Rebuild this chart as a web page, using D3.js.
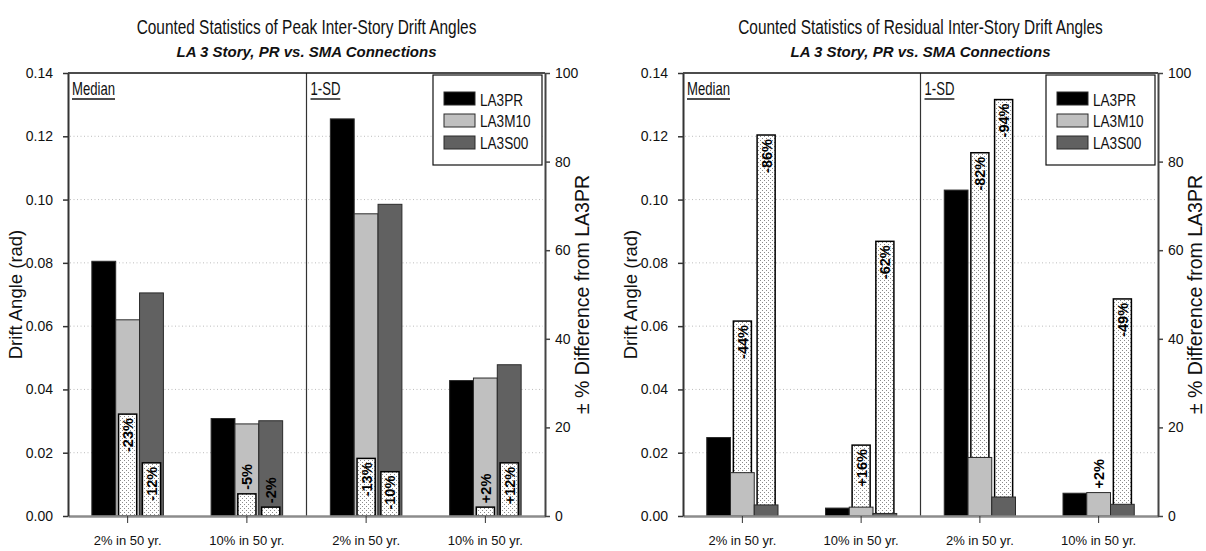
<!DOCTYPE html>
<html>
<head>
<meta charset="utf-8">
<script src="https://cdn.jsdelivr.net/npm/d3@7"></script>
<style>
  html, body { margin: 0; padding: 0; background: #fff; }
  svg { display: block; }
  text { font-family: "Liberation Sans", Arial, sans-serif; }
</style>
</head>
<body>
<svg id="chart" width="1206" height="551"></svg>
<script>
// ---- data ----
const categories = ["2% in 50 yr.", "10% in 50 yr.", "2% in 50 yr.", "10% in 50 yr."];
const groupLabels = ["Median", "1-SD"];
const seriesNames = ["LA3PR", "LA3M10", "LA3S00"];
const seriesColors = ["#000000", "#c0c0c0", "#616161"];

// Peak inter-story drift angles (rad)
const peakPR  = [0.0805, 0.0308, 0.1255, 0.0428];
const peakM10 = [0.0620, 0.0291, 0.0955, 0.0436];
const peakS00 = [0.0705, 0.0301, 0.0985, 0.0478];
// % difference from LA3PR
const peakDiffM10 = [-23, -5, -13, 2];
const peakDiffS00 = [-12, -2, -10, 12];

// Residual inter-story drift angles (rad)
const residPR  = [0.0248, 0.0025, 0.1030, 0.0072];
const residM10 = [0.0137, 0.0028, 0.0185, 0.0074];
const residS00 = [0.0035, 0.0008, 0.0060, 0.0037];
const residDiffM10 = [-44, 16, -82, 2];
const residDiffS00 = [-86, -62, -94, -49];

const driftTicks = [0, 0.02, 0.04, 0.06, 0.08, 0.10, 0.12, 0.14];
const pctTicks = [0, 20, 40, 60, 80, 100];

const svg = d3.select("#chart");

// stippled fill for the percentage bars
const defs = svg.append("defs");
const pat = defs.append("pattern").attr("id", "stipple")
  .attr("patternUnits", "userSpaceOnUse").attr("width", 4).attr("height", 4);
pat.append("rect").attr("width", 4).attr("height", 4).attr("fill", "#fff");
pat.append("rect").attr("x", 0).attr("y", 0).attr("width", 1).attr("height", 1).attr("fill", "#8a8a8a");
pat.append("rect").attr("x", 2).attr("y", 2).attr("width", 1).attr("height", 1).attr("fill", "#8a8a8a");

// horizontally condensed text
function narrowText(parent, x, y, size, sx, str, anchor) {
  return parent.append("text")
    .attr("transform", `translate(${x},${y}) scale(${sx},1)`)
    .attr("text-anchor", anchor || "start")
    .attr("font-size", size).attr("fill", "#111").text(str);
}

function drawPanel(opt) {
  const left = opt.left, right = opt.right, top = 73, bottom = 516;
  const g = svg.append("g");

  const x = d3.scaleBand().domain(d3.range(categories.length)).range([left, right]);
  const bw = x.bandwidth();
  const xs = d3.scaleBand().domain(seriesNames).range([bw * 0.2, bw * 0.8]);
  const y = d3.scaleLinear().domain([0, 0.14]).range([bottom, top]);
  const yp = d3.scaleLinear().domain([0, 100]).range([bottom, top]);

  // titles
  narrowText(g, (left + right) / 2, 34, 19.5, 0.79, opt.title, "middle");
  g.append("text")
    .attr("x", (left + right) / 2).attr("y", 57)
    .attr("text-anchor", "middle").attr("font-size", 15)
    .attr("font-weight", "bold").attr("font-style", "italic").attr("fill", "#111")
    .text("LA 3 Story, PR vs. SMA Connections");

  // dotted grid lines
  g.append("g").selectAll("line").data(driftTicks.filter(d => d > 0 && d < 0.14)).join("line")
    .attr("x1", left + 2).attr("x2", right - 2)
    .attr("y1", d => y(d)).attr("y2", d => y(d))
    .attr("stroke", "#bdbdbd").attr("stroke-width", 1).attr("stroke-dasharray", "1,2.5");

  const series = [opt.pr, opt.m10, opt.s00];
  const diffs = [null, opt.dm10, opt.ds00];

  function drawMain() {
    series.forEach((vals, si) => {
      g.append("g").selectAll("rect").data(vals).join("rect")
        .attr("x", (d, i) => x(i) + xs(seriesNames[si]))
        .attr("width", xs.bandwidth())
        .attr("y", d => y(d))
        .attr("height", d => y(0) - y(d))
        .attr("fill", seriesColors[si])
        .attr("stroke", "#2a2a2a").attr("stroke-width", 1);
    });
  }
  function drawDiffs() {
    [1, 2].forEach(si => {
      const w = xs.bandwidth() * 0.76;
      g.append("g").selectAll("rect").data(diffs[si]).join("rect")
        .attr("x", (d, i) => x(i) + xs(seriesNames[si]) + (xs.bandwidth() - w) / 2)
        .attr("width", w)
        .attr("y", d => yp(Math.abs(d)))
        .attr("height", d => yp(0) - yp(Math.abs(d)))
        .attr("fill", "url(#stipple)")
        .attr("stroke", "#000").attr("stroke-width", 1.5);
    });
  }
  if (opt.diffsInFront) { drawMain(); drawDiffs(); } else { drawDiffs(); drawMain(); }

  // percentage labels
  [1, 2].forEach(si => {
    diffs[si].forEach((d, i) => {
      const cx = x(i) + xs(seriesNames[si]) + xs.bandwidth() / 2;
      const label = (d > 0 ? "+" : "-") + Math.abs(d) + "%";
      const barTop = yp(Math.abs(d));
      const h = yp(0) - barTop;
      let ty, anchor;
      if (h >= 40) {
        ty = barTop + 4; anchor = "end";
      } else {
        const refTop = opt.diffsInFront ? barTop : Math.min(barTop, y(series[si][i]));
        ty = refTop - 4; anchor = "start";
      }
      g.append("text")
        .attr("transform", `translate(${cx + 0.5},${ty}) rotate(-90)`)
        .attr("text-anchor", anchor).attr("dominant-baseline", "central")
        .attr("font-size", 14.5).attr("font-weight", "bold").attr("fill", "#000")
        .text(label);
    });
  });

  // separator between Median and 1-SD groups
  g.append("line").attr("x1", x(2)).attr("x2", x(2)).attr("y1", top).attr("y2", bottom)
    .attr("stroke", "#333").attr("stroke-width", 1.2);

  // group labels (underlined)
  [left, x(2)].forEach((gx, k) => {
    const t = narrowText(g, gx + 4, 95, 17.5, 0.75, groupLabels[k]);
    const len = t.node().getComputedTextLength() * 0.75;
    g.append("line").attr("x1", gx + 4).attr("x2", gx + 4 + len)
      .attr("y1", 99).attr("y2", 99).attr("stroke", "#111").attr("stroke-width", 1.4);
  });

  // top frame
  g.append("line").attr("x1", left).attr("x2", right).attr("y1", top).attr("y2", top)
    .attr("stroke", "#111").attr("stroke-width", 1.5);

  // baseline + category axis
  const xAxis = g.append("g").attr("transform", `translate(0,${bottom})`)
    .call(d3.axisBottom(x).tickFormat(i => categories[i]).tickSize(7).tickSizeOuter(0).tickPadding(13));
  xAxis.select(".domain").attr("stroke", "#8c8c8c").attr("stroke-width", 2.5);
  xAxis.selectAll(".tick line").attr("stroke", "#333");
  xAxis.selectAll(".tick text").attr("font-size", 13).attr("fill", "#111");

  // left axis
  const yAxis = g.append("g").attr("transform", `translate(${left},0)`)
    .call(d3.axisLeft(y).tickValues(driftTicks).tickFormat(d3.format(".2f")).tickSize(5).tickSizeOuter(0).tickPadding(10));
  yAxis.select(".domain").attr("stroke", "#333").attr("stroke-width", 2);
  yAxis.selectAll(".tick line").attr("stroke", "#333").attr("stroke-width", 1.5);
  yAxis.selectAll(".tick text").attr("font-size", 14).attr("fill", "#111");

  // right axis
  const pAxis = g.append("g").attr("transform", `translate(${right},0)`)
    .call(d3.axisRight(yp).tickValues(pctTicks).tickSize(5).tickSizeOuter(0).tickPadding(5));
  pAxis.select(".domain").attr("stroke", "#444").attr("stroke-width", 2);
  pAxis.selectAll(".tick line").attr("stroke", "#444").attr("stroke-width", 1.5);
  pAxis.selectAll(".tick text").attr("font-size", 14).attr("fill", "#111");
  [xAxis, yAxis, pAxis].forEach(a => a.attr("font-family", null));

  // axis titles
  g.append("text")
    .attr("transform", `translate(${left - 53},${(top + bottom) / 2}) rotate(-90)`)
    .attr("text-anchor", "middle").attr("dominant-baseline", "central")
    .attr("font-size", 18.5).attr("fill", "#111").text("Drift Angle (rad)");
  g.append("text")
    .attr("transform", `translate(${right + 37},${(top + bottom) / 2}) rotate(-90)`)
    .attr("text-anchor", "middle").attr("dominant-baseline", "central")
    .attr("font-size", 19.5).attr("fill", "#111").text("\u00B1 % Difference from LA3PR");

  // legend
  const lg = g.append("g");
  lg.append("rect").attr("x", right - 112).attr("y", 75).attr("width", 109).attr("height", 90)
    .attr("fill", "#fff").attr("stroke", "#111").attr("stroke-width", 1.2);
  seriesNames.forEach((name, k) => {
    lg.append("rect").attr("x", right - 101).attr("y", 92 + k * 22).attr("width", 31).attr("height", 13)
      .attr("fill", seriesColors[k]).attr("stroke", "#2a2a2a").attr("stroke-width", 1);
    narrowText(lg, right - 65, 105.5 + k * 21.5, 17, 0.8, name);
  });
}

drawPanel({
  left: 68, right: 545,
  title: "Counted Statistics of Peak Inter-Story Drift Angles",
  pr: peakPR, m10: peakM10, s00: peakS00,
  dm10: peakDiffM10, ds00: peakDiffS00,
  diffsInFront: true
});
drawPanel({
  left: 683, right: 1158,
  title: "Counted Statistics of Residual Inter-Story Drift Angles",
  pr: residPR, m10: residM10, s00: residS00,
  dm10: residDiffM10, ds00: residDiffS00,
  diffsInFront: false
});
</script>
</body>
</html>
